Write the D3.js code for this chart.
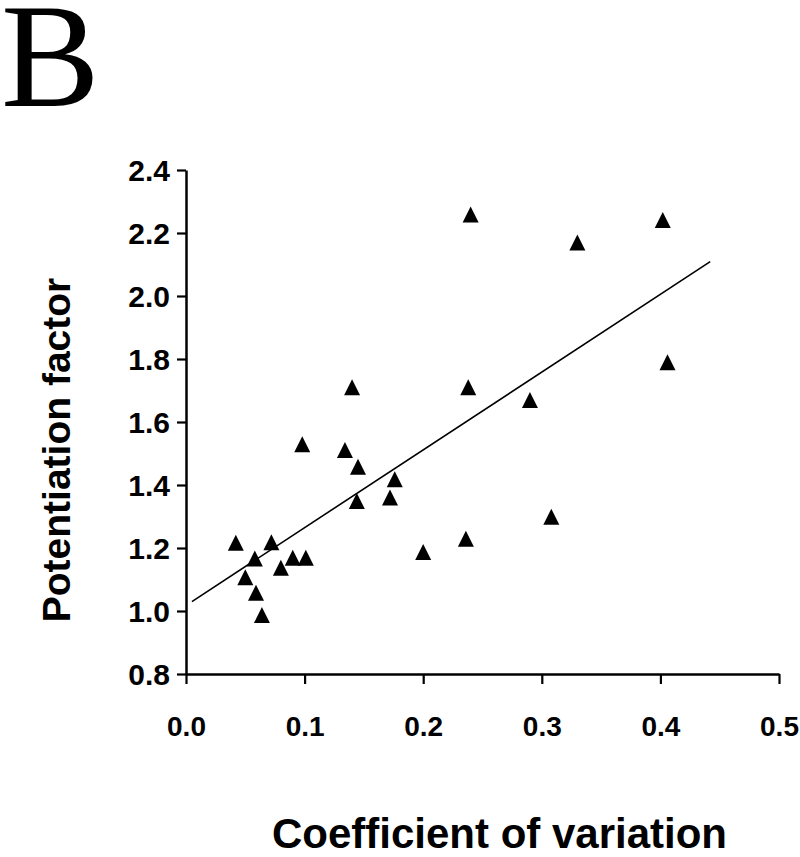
<!DOCTYPE html>
<html>
<head>
<meta charset="utf-8">
<script src="https://cdn.jsdelivr.net/npm/d3@7"></script>
<style>
  html, body { margin: 0; padding: 0; background: #fff; }
  svg { display: block; }
</style>
</head>
<body>
<svg id="chart" width="800" height="857"></svg>
<script>
// ---- data ----
const cvValues = [0.042, 0.050, 0.058, 0.059, 0.064, 0.072, 0.080, 0.090, 0.101, 0.098,
                  0.134, 0.140, 0.145, 0.144, 0.172, 0.176, 0.200, 0.236, 0.238, 0.240,
                  0.290, 0.308, 0.330, 0.402, 0.406];
const potentiation = [1.217, 1.107, 1.167, 1.058, 0.987, 1.218, 1.137, 1.169, 1.169, 1.529,
                      1.511, 1.710, 1.458, 1.349, 1.360, 1.418, 1.187, 1.229, 1.710, 2.259,
                      1.670, 1.299, 2.170, 2.241, 1.790];
const fitX = [0.005, 0.442];
const fitY = [1.030, 2.109];
const xTicks = [0.0, 0.1, 0.2, 0.3, 0.4, 0.5];
const yTicks = [0.8, 1.0, 1.2, 1.4, 1.6, 1.8, 2.0, 2.2, 2.4];
const panelLabel = "B";
const xTitle = "Coefficient of variation";
const yTitle = "Potentiation factor";

// ---- drawing ----
const svg = d3.select("#chart");
const x = d3.scaleLinear().domain([0, 0.5]).range([186, 779]);
const y = d3.scaleLinear().domain([0.8, 2.4]).range([674, 170]);
const sansBold = "'Liberation Sans', Arial, Helvetica, sans-serif";

svg.append("text")
  .attr("x", 1).attr("y", 106)
  .attr("font-family", "'Liberation Serif', 'Times New Roman', serif")
  .attr("font-size", 148)
  .attr("fill", "#000")
  .text(panelLabel);

// axes
const xAxis = d3.axisBottom(x).tickValues(xTicks).tickFormat(d3.format(".1f"))
  .tickSizeInner(10).tickSizeOuter(0).tickPadding(32);
const yAxis = d3.axisLeft(y).tickValues(yTicks).tickFormat(d3.format(".1f"))
  .tickSizeInner(9).tickSizeOuter(0).tickPadding(7);

const gx = svg.append("g").attr("transform", `translate(0,${y(0.8)})`).call(xAxis);
const gy = svg.append("g").attr("transform", `translate(${x(0)},0)`).call(yAxis);

[gx, gy].forEach(g => {
  g.select(".domain").attr("stroke", "#000").attr("stroke-width", 2.5);
  g.selectAll(".tick line").attr("stroke", "#000").attr("stroke-width", 2.2);
  g.selectAll(".tick text")
    .attr("font-family", sansBold)
    .attr("font-weight", "bold")
    .attr("font-size", 28)
    .attr("fill", "#000");
});
gx.selectAll(".tick text").attr("dy", "0.71em");
gy.selectAll(".tick text").attr("font-size", 30).attr("dy", "0.36em");

// regression line
svg.append("line")
  .attr("x1", x(fitX[0])).attr("y1", y(fitY[0]))
  .attr("x2", x(fitX[1])).attr("y2", y(fitY[1]))
  .attr("stroke", "#000").attr("stroke-width", 1.6);

// triangle markers (centered on bounding box)
const tri = {
  draw(ctx, size) {
    const w = Math.sqrt(size);
    const h = w;
    ctx.moveTo(0, -h / 2);
    ctx.lineTo(w / 2, h / 2);
    ctx.lineTo(-w / 2, h / 2);
    ctx.closePath();
  }
};
const pts = cvValues.map((v, i) => ({ cv: v, pf: potentiation[i] }));
svg.append("g").selectAll("path")
  .data(pts)
  .join("path")
  .attr("transform", d => `translate(${x(d.cv)},${y(d.pf)})`)
  .attr("d", d3.symbol().type(tri).size(16 * 16))
  .attr("fill", "#000");

// axis titles
svg.append("text")
  .attr("x", 499.5).attr("y", 848)
  .attr("text-anchor", "middle")
  .attr("font-family", sansBold)
  .attr("font-weight", "bold")
  .attr("font-size", 42)
  .attr("fill", "#000")
  .text(xTitle);

svg.append("text")
  .attr("transform", "translate(70,450) rotate(-90)")
  .attr("text-anchor", "middle")
  .attr("font-family", sansBold)
  .attr("font-weight", "bold")
  .attr("font-size", 39)
  .attr("fill", "#000")
  .text(yTitle);
</script>
</body>
</html>
